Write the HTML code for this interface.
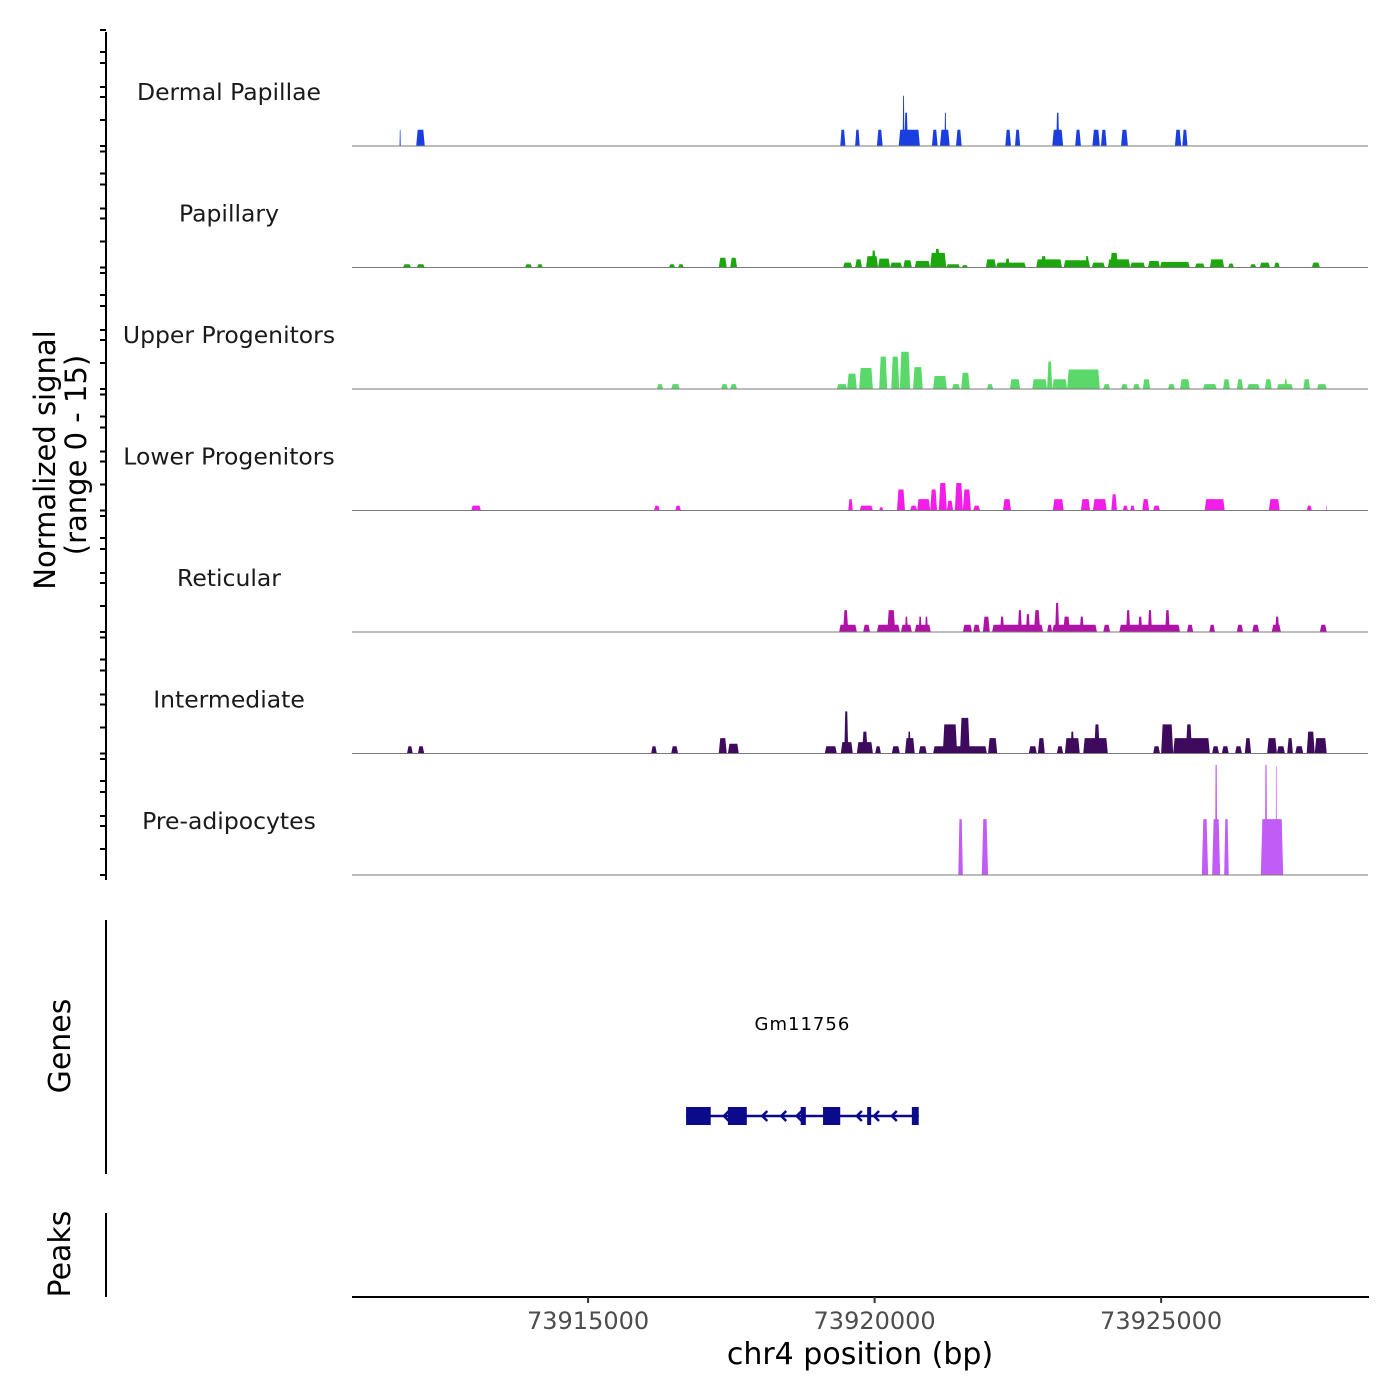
<!DOCTYPE html>
<html><head><meta charset="utf-8">
<style>
html,body{margin:0;padding:0;background:#fff;}
svg{display:block;font-family:"DejaVu Sans","Liberation Sans",sans-serif;}
</style></head>
<body>
<svg id="chart" width="1400" height="1400" viewBox="0 0 1400 1400" xmlns="http://www.w3.org/2000/svg">
  <g id="tracks"></g>
  <g id="labels"></g>
  <line x1="106" y1="32" x2="106" y2="880" stroke="#000" stroke-width="2"/>
  <g id="yticks"></g>
  <text transform="translate(55,460) rotate(-90)" text-anchor="middle" font-size="29" fill="#000">Normalized signal</text>
  <text transform="translate(86,455) rotate(-90)" text-anchor="middle" font-size="29" fill="#000">(range 0 - 15)</text>
  <line x1="106" y1="920" x2="106" y2="1174" stroke="#000" stroke-width="2"/>
  <text transform="translate(70,1046) rotate(-90)" text-anchor="middle" font-size="30" fill="#000">Genes</text>
  <g id="genes"></g>
  <line x1="106" y1="1213" x2="106" y2="1297" stroke="#000" stroke-width="2"/>
  <text transform="translate(70,1254) rotate(-90)" text-anchor="middle" font-size="30" fill="#000">Peaks</text>
  <line x1="352" y1="1297" x2="1369" y2="1297" stroke="#000" stroke-width="2"/>
  <g id="xticks"></g>
  <text x="860" y="1364" text-anchor="middle" font-size="30" fill="#000">chr4 position (bp)</text>
</svg>
<script>
// ---- data (positions in kb on chr4, values in normalized signal units) ----
const trackNames = ["Dermal Papillae","Papillary","Upper Progenitors","Lower Progenitors","Reticular","Intermediate","Pre-adipocytes"];
const trackColors = ["#1a3fe0","#1aa80c","#5ad86a","#f01ee6","#b012a8","#3d0a5e","#c25cf7"];
const xTickValues = [73915000, 73920000, 73925000];
const xTickLabels = ["73915000","73920000","73925000"];
const peaksDermal = [[73911.71,73911.73,2],[73912.0,73912.15,2],[73919.40,73919.49,2],[73919.66,73919.74,2],[73920.04,73920.14,2],[73920.42,73920.79,2],[73920.49,73920.52,6.2],[73920.52,73920.58,4.1],[73921.0,73921.1,2],[73921.14,73921.31,2],[73921.22,73921.25,4.1],[73921.42,73921.52,2],[73922.28,73922.38,2],[73922.45,73922.54,2],[73923.1,73923.29,2],[73923.17,73923.22,4.1],[73923.5,73923.6,2],[73923.8,73923.93,2],[73923.95,73924.05,2],[73924.3,73924.42,2],[73925.24,73925.35,2],[73925.37,73925.46,2]];
const peaksPapillary = [[73911.77,73911.91,0.4],[73912.01,73912.15,0.4],[73913.90,73914.02,0.4],[73914.11,73914.21,0.4],[73916.41,73916.52,0.4],[73916.57,73916.67,0.4],[73917.28,73917.42,1.2],[73917.48,73917.60,1.2],[73919.45,73919.61,0.6],[73919.66,73919.78,1.0],[73919.85,73920.06,1.4],[73919.95,73920.02,2.1],[73920.06,73920.27,1.1],[73920.27,73920.48,0.6],[73920.50,73920.65,0.9],[73920.70,73920.97,0.8],[73920.97,73921.25,1.8],[73921.05,73921.14,2.3],[73921.25,73921.49,0.4],[73921.52,73921.63,0.3],[73921.94,73922.12,1.0],[73922.12,73922.64,0.6],[73922.28,73922.36,1.1],[73922.82,73923.27,1.0],[73922.90,73923.0,1.4],[73923.30,73923.76,0.9],[73923.68,73923.74,1.4],[73923.79,73924.02,0.6],[73924.07,73924.46,1.0],[73924.11,73924.25,1.8],[73924.46,73924.72,0.6],[73924.77,73924.98,0.8],[73924.98,73925.50,0.7],[73925.59,73925.76,0.5],[73925.85,73926.10,1.0],[73926.17,73926.27,0.5],[73926.55,73926.66,0.4],[73926.72,73926.90,0.6],[73926.97,73927.07,0.6],[73927.63,73927.77,0.6]];
const peaksUpper = [[73916.20,73916.31,0.6],[73916.45,73916.60,0.6],[73917.32,73917.44,0.6],[73917.48,73917.60,0.6],[73919.34,73919.52,0.6],[73919.52,73919.69,1.9],[73919.73,73919.97,2.6],[73920.08,73920.22,4.0],[73920.29,73920.43,4.0],[73920.44,73920.62,4.6],[73920.67,73920.84,2.7],[73921.02,73921.26,1.6],[73921.35,73921.49,0.6],[73921.51,73921.66,2.0],[73921.96,73922.07,0.6],[73922.36,73922.54,1.2],[73922.75,73923.01,1.2],[73923.01,73923.10,3.4],[73923.10,73923.36,1.2],[73923.36,73923.93,2.4],[73923.99,73924.11,0.6],[73924.30,73924.42,0.6],[73924.51,73924.63,0.6],[73924.68,73924.81,1.2],[73925.12,73925.24,0.6],[73925.33,73925.50,1.2],[73925.73,73925.97,0.6],[73926.08,73926.20,1.2],[73926.32,73926.43,1.2],[73926.50,73926.72,0.6],[73926.81,73926.93,1.2],[73927.02,73927.30,0.6],[73927.15,73927.20,1.2],[73927.48,73927.60,1.2],[73927.72,73927.89,0.6]];
const peaksLower = [[73912.96,73913.13,0.6],[73916.15,73916.25,0.6],[73916.52,73916.62,0.6],[73919.54,73919.62,1.4],[73919.74,73919.97,0.6],[73920.08,73920.15,0.4],[73920.39,73920.53,2.6],[73920.62,73920.74,0.6],[73920.74,73920.97,1.4],[73920.97,73921.09,2.6],[73921.12,73921.26,3.4],[73921.26,73921.37,1.2],[73921.40,73921.54,3.4],[73921.54,73921.68,2.6],[73921.72,73921.84,0.6],[73922.24,73922.38,1.4],[73923.11,73923.30,1.4],[73923.60,73923.76,1.4],[73923.81,73924.05,1.4],[73924.13,73924.23,2.0],[73924.33,73924.42,0.6],[73924.46,73924.54,0.6],[73924.67,73924.79,1.4],[73924.86,73924.98,0.6],[73925.76,73926.11,1.4],[73926.88,73927.07,1.4],[73927.54,73927.63,0.6],[73927.88,73927.89,0.6]];
const peaksReticular = [[73919.38,73919.69,0.9],[73919.45,73919.54,2.7],[73919.80,73919.92,0.9],[73920.04,73920.44,0.9],[73920.22,73920.36,2.7],[73920.46,73920.65,0.9],[73920.53,73920.58,1.9],[73920.70,73920.98,0.9],[73920.77,73920.82,1.9],[73920.88,73920.93,1.9],[73921.54,73921.70,0.9],[73921.72,73921.84,0.9],[73921.89,73922.01,1.9],[73922.05,73922.94,0.9],[73922.19,73922.26,1.9],[73922.50,73922.57,2.7],[73922.64,73922.71,2.2],[73922.78,73922.89,2.7],[73923.01,73923.10,0.9],[73923.10,73923.88,0.9],[73923.15,73923.22,3.6],[73923.29,73923.41,1.9],[73923.58,73923.65,1.9],[73923.99,73924.11,0.9],[73924.27,73925.33,0.9],[73924.39,73924.46,2.7],[73924.60,73924.67,1.9],[73924.77,73924.84,2.7],[73925.07,73925.15,2.7],[73925.45,73925.56,0.9],[73925.84,73925.94,0.9],[73926.32,73926.43,0.9],[73926.59,73926.71,0.9],[73926.93,73927.09,0.9],[73926.99,73927.06,1.9],[73927.77,73927.89,0.9]];
const peaksIntermediate = [[73911.84,73911.94,0.9],[73912.03,73912.14,0.9],[73916.10,73916.20,0.9],[73916.45,73916.57,0.9],[73917.28,73917.42,1.9],[73917.44,73917.63,1.2],[73919.13,73919.34,0.9],[73919.41,73919.62,1.4],[73919.47,73919.54,5.2],[73919.69,73919.97,1.4],[73919.78,73919.88,2.7],[73920.01,73920.11,0.9],[73920.30,73920.44,0.9],[73920.53,73920.70,1.9],[73920.58,73920.63,2.7],[73920.77,73920.91,0.9],[73921.02,73921.96,0.9],[73921.19,73921.44,3.6],[73921.49,73921.66,4.4],[73921.98,73922.14,1.9],[73922.69,73922.83,0.9],[73922.85,73922.97,1.9],[73923.18,73923.29,0.9],[73923.32,73923.58,1.9],[73923.42,73923.48,2.7],[73923.64,73924.07,1.9],[73923.83,73923.93,3.6],[73924.86,73924.98,0.9],[73925.00,73925.21,3.6],[73925.21,73925.85,1.9],[73925.43,73925.54,3.6],[73925.89,73926.01,0.9],[73926.06,73926.18,0.9],[73926.29,73926.41,0.9],[73926.46,73926.57,1.9],[73926.85,73927.02,1.9],[73927.02,73927.16,0.9],[73927.20,73927.30,1.9],[73927.34,73927.48,0.9],[73927.54,73927.68,2.7],[73927.68,73927.89,1.9]];
const peaksPreadipo = [[73921.46,73921.54,6.9],[73921.87,73921.98,6.9],[73925.71,73925.82,6.9],[73925.89,73926.03,6.9],[73925.94,73925.98,13.6],[73926.10,73926.18,6.9],[73926.74,73927.13,6.9],[73926.81,73926.85,13.6],[73927.00,73927.02,13.4]];
const trackPeaks = [peaksDermal,peaksPapillary,peaksUpper,peaksLower,peaksReticular,peaksIntermediate,peaksPreadipo];
const geneExons = [[73916.71,73917.14],[73917.44,73917.77],[73918.71,73918.80],[73919.10,73919.40],[73919.87,73919.94],[73920.65,73920.77]];
const geneArrows = [73917.37,73918.04,73918.37,73918.64,73919.69,73919.99,73920.30];
const geneSpan = [73916.71,73920.77];
const yTickOffsets = [0,26,49,59,83,94,116];

// ---- scales ----
const NS="http://www.w3.org/2000/svg";
const X0=352, X1=1368, D0=73910.88, D1=73928.61;
function xs(kb){return X0+(kb-D0)/(D1-D0)*(X1-X0);}
const base0=146, step=121.5, pxPerUnit=8.1;
function baseY(i){return base0+i*step;}
function ys(i,v){return baseY(i)-Math.min(v,15)*pxPerUnit;}
function mk(tag,attrs,parent){const e=document.createElementNS(NS,tag);for(const k in attrs)e.setAttribute(k,attrs[k]);parent.appendChild(e);return e;}

const gT=document.getElementById('tracks'), gL=document.getElementById('labels'), gY=document.getElementById('yticks');
trackNames.forEach((name,i)=>{
  const b=baseY(i);
  trackPeaks[i].forEach(p=>{
    const a=xs(p[0]), c=Math.max(xs(p[1]),a+0.8), t=ys(i,p[2]);
    const s=Math.min(1.5,(c-a)/4);
    const poly=mk('polygon',{points:`${a},${b} ${a+s},${t} ${c-s},${t} ${c},${b}`,fill:trackColors[i]},gT);
    
    
  });
  const ln=mk('line',{x1:X0,y1:b,x2:X1,y2:b,stroke:'#7a7a7a','stroke-width':1},gT);
  
  
  const tx=mk('text',{x:229,y:b-46,'text-anchor':'middle','font-size':23.5,fill:'#1a1a1a'},gL);
  tx.textContent=name;
  
  
  yTickOffsets.forEach(o=>{
    const tk=mk('line',{x1:100,y1:b-o,x2:106,y2:b-o,stroke:'#000','stroke-width':2},gY);
    
    
  });
});

// genes
const gG=document.getElementById('genes'), gy=1116, gc='#0a0a8a';
const il=mk('line',{x1:xs(geneSpan[0]),y1:gy,x2:xs(geneSpan[1]),y2:gy,stroke:gc,'stroke-width':2.5},gG);


geneExons.forEach(e=>{
  const r=mk('rect',{x:xs(e[0]),y:1107,width:Math.max(xs(e[1])-xs(e[0]),3),height:18,fill:gc},gG);
  
  
});
geneArrows.forEach(a=>{
  const x=xs(a);
  const p=mk('polyline',{points:`${x+5},${gy-5} ${x},${gy} ${x+5},${gy+5}`,fill:'none',stroke:gc,'stroke-width':2.5},gG);
  
  
});
const gl=mk('text',{x:(xs(geneSpan[0])+xs(geneSpan[1]))/2,y:1030,'text-anchor':'middle','font-size':18,fill:'#000','letter-spacing':'1'},gG);
gl.textContent='Gm11756';



// x ticks
const gX=document.getElementById('xticks');
xTickValues.forEach((v,i)=>{
  const x=xs(v/1000);
  const t=mk('line',{x1:x,y1:1297,x2:x,y2:1303,stroke:'#333','stroke-width':2},gX);
  
  
  const l=mk('text',{x:x,y:1329,'text-anchor':'middle','font-size':24,fill:'#4d4d4d'},gX);
  l.textContent=xTickLabels[i];
  
  
});
</script>
</body></html>
